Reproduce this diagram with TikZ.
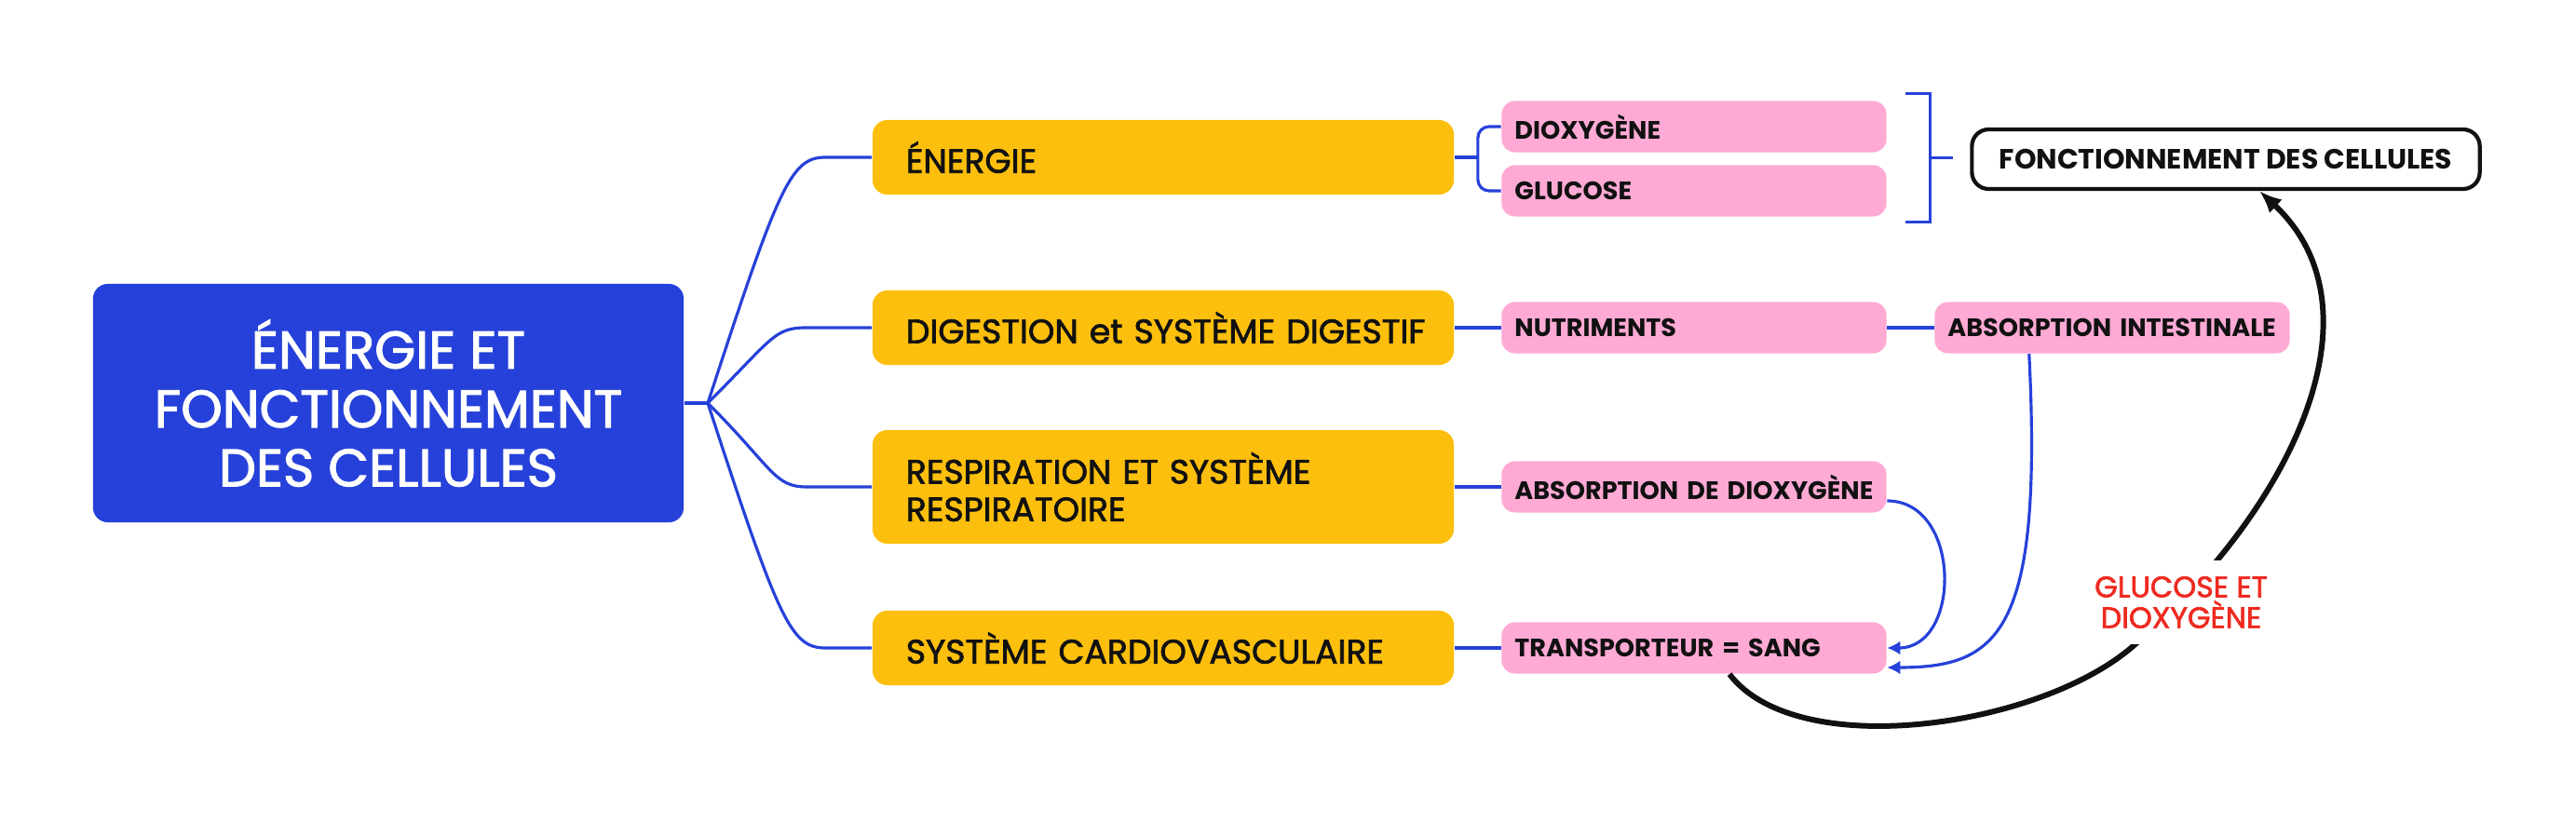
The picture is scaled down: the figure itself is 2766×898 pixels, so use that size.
\documentclass[tikz,border=0pt]{standalone}
\usepackage{fontspec}
\setmainfont{Poppins}
\newfontfamily\medfont{Poppins}[FakeBold=2]
\usetikzlibrary{arrows.meta,calc}
\definecolor{mapblue}{HTML}{2641D9}
\definecolor{mapyellow}{HTML}{FDBF0D}
\definecolor{mappink}{HTML}{FEAAD5}
\definecolor{mapred}{HTML}{EE2A1F}
\definecolor{ink}{HTML}{111111}
\tikzset{
  rootbox/.style={rectangle, rounded corners=0.16cm, fill=mapblue, text=white,
    minimum width=6.34cm, minimum height=2.56cm, align=center,
    font=\medfont\fontsize{16.1}{18}\selectfont},
  sysbox/.style={rectangle, rounded corners=0.16cm, fill=mapyellow, text=ink,
    text width=5.52cm, inner xsep=0.36cm, minimum height=0.80cm, align=left,
    font=\medfont\fontsize{10.3}{11.5}\selectfont},
  leafbox/.style={rectangle, rounded corners=0.14cm, fill=mappink, text=ink,
    text width=3.85cm, inner xsep=0.14cm, minimum height=0.55cm, align=left,
    font=\bfseries\fontsize{7.7}{9}\selectfont},
  goalbox/.style={rectangle, rounded corners=0.18cm, draw=ink, line width=1.2pt,
    fill=white, text=ink, minimum width=5.45cm, minimum height=0.64cm,
    font=\bfseries\fontsize{8.5}{9}\selectfont},
  note/.style={fill=white, text=mapred, align=center, inner xsep=0.08cm, inner ysep=0.17cm,
    font=\medfont\fontsize{9}{9.4}\selectfont},
  link/.style={draw=mapblue, line width=0.9pt},
  flow/.style={link, -{Latex[length=0.14cm,width=0.15cm]}},
  bigflow/.style={draw=ink, line width=1.7pt, -{Latex[length=0.24cm,width=0.2cm]}}
}

\begin{document}
\begin{tikzpicture}[x=0.01cm,y=-0.01cm]
  \useasboundingbox (0,0) rectangle (2766,898);
  % centre and main branches
  \node[rootbox] (root) at (417,433) {ÉNERGIE ET\\FONCTIONNEMENT\\DES CELLULES};
  \coordinate (hub) at (760,433);
  \node[sysbox] (energie) at (1249,169) {ÉNERGIE};
  \node[sysbox] (digest) at (1249,352) {\mbox{DIGESTION et SYSTÈME DIGESTIF}};
  \node[sysbox, minimum height=1.22cm] (respi) at (1249,523) {RESPIRATION ET SYSTÈME\\RESPIRATOIRE};
  \node[sysbox] (cardio) at (1249,696) {SYSTÈME CARDIOVASCULAIRE};
  % leaves
  \node[leafbox] (dioxy) at (1819,136) {DIOXYGÈNE};
  \node[leafbox] (gluc) at (1819,205) {GLUCOSE};
  \node[leafbox] (nutri) at (1819,352) {NUTRIMENTS};
  \node[leafbox, text width=3.53cm] (absint) at (2268,352) {ABSORPTION INTESTINALE};
  \node[leafbox] (absdiox) at (1819,523) {ABSORPTION DE DIOXYGÈNE};
  \node[leafbox] (sang) at (1819,696) {TRANSPORTEUR = SANG};
  \node[goalbox] (cellules) at (2390,171) {FONCTIONNEMENT DES CELLULES};

  \draw[link] (root.east) -- (hub);
  \draw[link] (hub) .. controls +(76,-233) and +(-37,0) .. ([xshift=-0.5cm]energie.west) -- (energie.west);
  \draw[link] (hub) .. controls +(70,-70) and +(-35,0) .. ([xshift=-0.7cm]digest.west) -- (digest.west);
  \draw[link] (hub) .. controls +(70,70) and +(-35,0) .. ([xshift=-0.7cm]respi.west) -- (respi.west);
  \draw[link] (hub) .. controls +(76,233) and +(-37,0) .. ([xshift=-0.5cm]cardio.west) -- (cardio.west);

  \coordinate (fork) at ($(energie.east)+(25,0)$);
  \draw[link] (energie.east) -- (fork);
  \draw[link, rounded corners=0.12cm] (dioxy.west) -| (fork) |- (gluc.west);
  \draw[link] (digest.east) -- (nutri.west);
  \draw[link] (nutri.east) -- (absint.west);
  \draw[link] (respi.east) -- (absdiox.west);
  \draw[link] (cardio.east) -- (sang.west);

  % bracket towards the cells
  \coordinate (brtop) at ($(dioxy.north east)+(20,-7)$);
  \coordinate (brbot) at ($(gluc.south east)+(20,5)$);
  \coordinate (brmid) at ($(brtop)!0.5!(brbot)+(26,0)$);
  \draw[link] (brtop) -- ++(26,0) |- (brbot);
  \draw[link] (brmid) -- ++(25,0);

  % transport
  \draw[flow] ([yshift=-0.15cm]absdiox.east) to[out=0,in=0,looseness=1.3] (sang.east);
  \draw[flow] ([xshift=1.02cm]absint.south west) .. controls +(15,300) and +(120,0) .. ([yshift=-0.21cm]sang.east);
  \draw[bigflow] ([xshift=0.38cm]sang.south) .. controls +(74,97) and +(-96,91) .. (2296,689)
    .. controls +(170,-150) and +(134,125) .. ([xshift=0.36cm]cellules.south);
  \node[note] (carry) at (2342,647) {GLUCOSE ET\\DIOXYGÈNE};
\end{tikzpicture}
\end{document}
